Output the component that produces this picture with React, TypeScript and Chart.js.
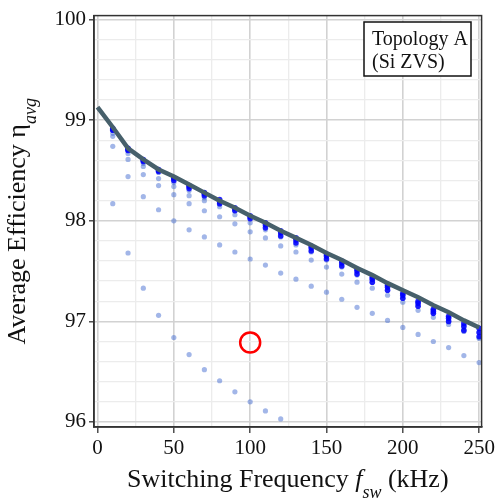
import React, { useEffect, useRef } from "react";
import { Chart, registerables } from "chart.js";

Chart.register(...registerables);

// ---- data ----
const freqs = [10, 20, 30, 40, 50, 60, 70, 80, 90, 100, 110, 120, 130, 140, 150, 160, 170, 180, 190, 200, 210, 220, 230, 240, 250];

const seriesA = [98.90, 98.70, 98.57, 98.48, 98.38, 98.30, 98.23, 98.17, 98.10, 98.03, 97.95, 97.88, 97.80, 97.73, 97.65, 97.57, 97.50, 97.42, 97.35, 97.27, 97.19, 97.12, 97.04, 96.96, 96.89];
const seriesB = [98.87, 98.67, 98.54, 98.42, 98.34, 98.25, 98.20, 98.14, 98.06, 97.98, 97.91, 97.84, 97.76, 97.69, 97.61, 97.54, 97.46, 97.39, 97.31, 97.23, 97.16, 97.08, 97.00, 96.92, 96.84];
const seriesC = [98.84, 98.61, 98.46, 98.35, 98.26, 98.17, 98.10, 98.04, 97.97, 97.89, 97.83, 97.75, 97.69, 97.61, 97.54, 97.47, 97.39, 97.33, 97.26, 97.19, 97.11, 97.04, 96.97, 96.90, 96.83];
const seriesD = [98.74, 98.44, 98.24, 98.11, 98.00, 97.91, 97.84, 97.76, 97.69, 97.62, 97.56, 97.48, 97.42, 97.35, 97.29, 97.22, 97.14, 97.08, 97.01, 96.94, 96.87, 96.80, 96.74, 96.66, 96.59];
const seriesE = [98.17, 97.68, 97.33, 97.06, 96.84, 96.67, 96.52, 96.41, 96.30, 96.20, 96.11, 96.03, null, null, null, null, null, null, null, null, null, null, null, null, null];

const darkTop = [98.92, 98.72, 98.61, 98.51, 98.43, 98.35, 98.28, 98.21, 98.13, 98.05, 97.98, 97.90, 97.83, 97.75, 97.67, 97.60, 97.52, 97.44, 97.36, 97.28, 97.20, 97.12, 97.05, 96.98, 96.93];
const darkMid = [98.91, 98.71, 98.60, 98.50, 98.42, 98.34, 98.27, 98.19, 98.12, 98.04, 97.96, 97.88, 97.81, 97.73, 97.65, 97.58, 97.50, 97.42, 97.34, 97.26, 97.18, 97.10, 97.03, 96.95, 96.89];
const darkLow = [98.90, 98.70, 98.59, 98.49, 98.40, 98.32, 98.25, 98.17, 98.10, 98.02, 97.93, 97.85, 97.78, 97.70, 97.62, 97.55, 97.47, 97.39, 97.31, 97.23, 97.15, 97.08, 97.00, 96.91, 96.85];

const lineFreqs = [0, 10, 20, 30, 40, 50, 60, 70, 80, 90, 100, 110, 120, 130, 140, 150, 160, 170, 180, 190, 200, 210, 220, 230, 240, 250];
const bestLine = [99.13, 98.93, 98.72, 98.61, 98.51, 98.44, 98.36, 98.28, 98.20, 98.13, 98.05, 97.98, 97.90, 97.83, 97.76, 97.68, 97.61, 97.53, 97.46, 97.38, 97.31, 97.24, 97.16, 97.09, 97.01, 96.94];

const markerFreq = [100];
const markerEff = [96.79];

const xGridValues = [0, 25, 50, 75, 100, 125, 150, 175, 200, 225, 250];
const xTickLabels = [0, 50, 100, 150, 200, 250];
const yGridValues = [96, 96.2, 96.4, 96.6, 96.8, 97, 97.2, 97.4, 97.6, 97.8, 98, 98.2, 98.4, 98.6, 98.8, 99, 99.2, 99.4, 99.6, 99.8, 100];
const yTickLabels = [96, 97, 98, 99, 100];

const legendLines = ["Topology A", "(Si ZVS)"];

// ---- helpers ----
const pts = (xs: number[], ys: (number | null)[]) =>
  xs.map((x, i) => ({ x, y: ys[i] })).filter((p) => p.y !== null) as { x: number; y: number }[];

const isLabel = (list: number[], v: number) => list.some((t) => Math.abs(t - v) < 1e-6);

const SERIF = "'Liberation Serif', 'Times New Roman', serif";

const decorPlugin = {
  id: "decor",
  afterDraw(chart: any) {
    const { ctx, chartArea } = chart;
    const { left, top, right, bottom } = chartArea;
    ctx.save();
    // frame
    ctx.strokeStyle = "#333";
    ctx.lineWidth = 1.5;
    ctx.strokeRect(left, top, right - left, bottom - top);

    // legend box
    const bx = 364, by = 22, bw = 107, bh = 54;
    ctx.fillStyle = "#fff";
    ctx.fillRect(bx, by, bw, bh);
    ctx.strokeStyle = "#111";
    ctx.lineWidth = 1.5;
    ctx.strokeRect(bx, by, bw, bh);
    ctx.fillStyle = "#111";
    ctx.font = `20px ${SERIF}`;
    ctx.textBaseline = "alphabetic";
    ctx.textAlign = "left";
    ctx.fillText(legendLines[0], 372, 45);
    ctx.fillText(legendLines[1], 372, 68);

    // x title
    const main = `26px ${SERIF}`;
    const ital = `italic 26px ${SERIF}`;
    const sub = `italic 18px ${SERIF}`;
    const parts = [
      { t: "Switching Frequency ", f: main, dy: 0 },
      { t: "f", f: ital, dy: 0 },
      { t: "sw", f: sub, dy: 11 },
      { t: " (kHz)", f: main, dy: 0 },
    ];
    let total = 0;
    for (const p of parts) {
      ctx.font = p.f;
      total += ctx.measureText(p.t).width;
    }
    let x = (left + right) / 2 - total / 2;
    for (const p of parts) {
      ctx.font = p.f;
      ctx.fillText(p.t, x, 487 + p.dy);
      x += ctx.measureText(p.t).width;
    }

    // y title (rotated)
    const yparts = [
      { t: "Average Efficiency η", f: main, dy: 0 },
      { t: "avg", f: sub, dy: 11 },
    ];
    let ytotal = 0;
    for (const p of yparts) {
      ctx.font = p.f;
      ytotal += ctx.measureText(p.t).width;
    }
    ctx.translate(25, (top + bottom) / 2);
    ctx.rotate(-Math.PI / 2);
    let yx = -ytotal / 2;
    for (const p of yparts) {
      ctx.font = p.f;
      ctx.fillText(p.t, yx, p.dy);
      yx += ctx.measureText(p.t).width;
    }
    ctx.restore();
  },
};

export default function App() {
  const ref = useRef<HTMLCanvasElement>(null);

  useEffect(() => {
    if (!ref.current) return;
    const light = "rgba(70,110,210,0.5)";
    const dark = "rgba(0,0,255,0.85)";
    const lightSet = (data: any[]) => ({
      type: "scatter" as const,
      data,
      pointRadius: 2.6,
      pointBackgroundColor: light,
      pointBorderWidth: 0,
      order: 4,
    });
    const darkSet = (data: any[]) => ({
      type: "scatter" as const,
      data,
      pointRadius: 2.8,
      pointBackgroundColor: dark,
      pointBorderWidth: 0,
      order: 3,
    });

    const chart = new Chart(ref.current, {
      type: "scatter",
      data: {
        datasets: [
          {
            type: "scatter",
            data: pts(markerFreq, markerEff),
            pointRadius: 10,
            pointBackgroundColor: "rgba(0,0,0,0)",
            pointBorderColor: "#ff0000",
            pointBorderWidth: 2.5,
            order: 0,
          },
          {
            type: "line",
            data: pts(lineFreqs, bestLine),
            borderColor: "#47606b",
            borderWidth: 4.5,
            pointRadius: 0,
            tension: 0,
            fill: false,
            order: 1,
          } as any,
          darkSet(pts(freqs, darkLow)),
          darkSet(pts(freqs, darkMid)),
          darkSet(pts(freqs, darkTop)),
          lightSet(pts(freqs, seriesA)),
          lightSet(pts(freqs, seriesB)),
          lightSet(pts(freqs, seriesC)),
          lightSet(pts(freqs, seriesD)),
          lightSet(pts(freqs, seriesE)),
        ],
      },
      options: {
        responsive: false,
        animation: false,
        events: [],
        layout: { padding: { left: 0, top: 11, right: 16, bottom: 0 } },
        plugins: { legend: { display: false }, tooltip: { enabled: false } },
        scales: {
          x: {
            type: "linear",
            min: -2.3,
            max: 251.6,
            afterBuildTicks: (scale: any) => {
              scale.ticks = xGridValues.map((v) => ({ value: v }));
            },
            afterFit: (scale: any) => {
              scale.height = 74;
            },
            ticks: {
              autoSkip: false,
              maxRotation: 0,
              padding: 3,
              color: "#111",
              font: { family: SERIF, size: 21 },
              callback: (v: any) => (isLabel(xTickLabels, Number(v)) ? String(v) : ""),
            },
            grid: {
              color: (c: any) => (c.tick && isLabel(xTickLabels, c.tick.value) ? "#d2d2d2" : "#ececec"),
              lineWidth: (c: any) => (c.tick && isLabel(xTickLabels, c.tick.value) ? 1.6 : 1.3),
              tickColor: (c: any) => (c.tick && isLabel(xTickLabels, c.tick.value) ? "#333" : "rgba(0,0,0,0)"),
              tickLength: 6,
              tickWidth: 1.3,
            },
            border: { display: true, color: "#333", width: 1.5 },
          },
          y: {
            type: "linear",
            min: 95.95,
            max: 100.04,
            afterBuildTicks: (scale: any) => {
              scale.ticks = yGridValues.map((v) => ({ value: v }));
            },
            afterFit: (scale: any) => {
              scale.width = 94;
            },
            ticks: {
              autoSkip: false,
              padding: 3,
              color: "#111",
              font: { family: SERIF, size: 21 },
              callback: (v: any) => (isLabel(yTickLabels, Number(v)) ? String(Math.round(Number(v))) : ""),
            },
            grid: {
              color: (c: any) => (c.tick && isLabel(yTickLabels, c.tick.value) ? "#d2d2d2" : "#ececec"),
              lineWidth: (c: any) => (c.tick && isLabel(yTickLabels, c.tick.value) ? 1.6 : 1.3),
              tickColor: (c: any) => (c.tick && isLabel(yTickLabels, c.tick.value) ? "#333" : "rgba(0,0,0,0)"),
              tickLength: 5,
              tickWidth: 1.3,
            },
            border: { display: true, color: "#333", width: 1.5 },
          },
        },
      },
      plugins: [decorPlugin],
    } as any);
    return () => chart.destroy();
  }, []);

  return (
    <div style={{ position: "fixed", left: 0, top: 0, width: 498, height: 501, background: "#fff" }}>
      <canvas ref={ref} width={498} height={501} style={{ width: 498, height: 501, display: "block" }} />
    </div>
  );
}
